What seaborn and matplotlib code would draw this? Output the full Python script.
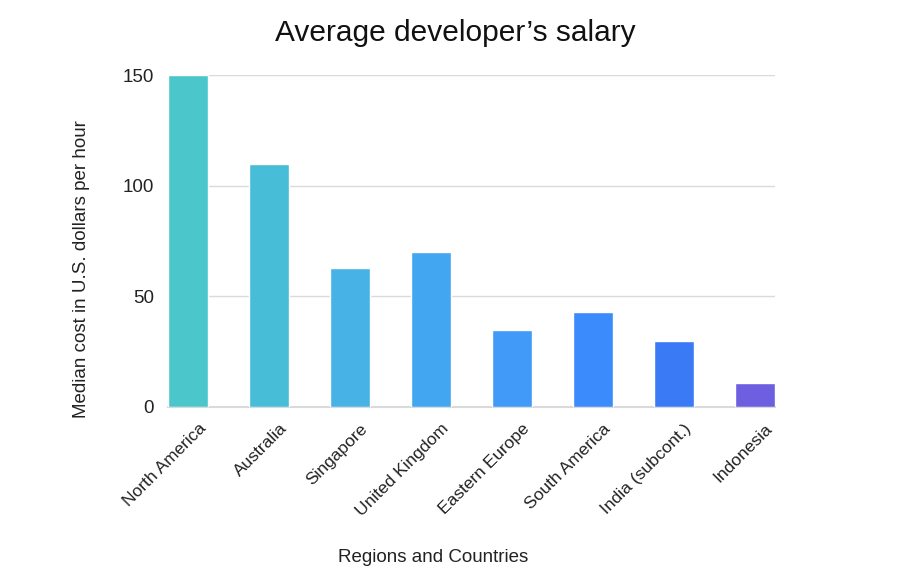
import matplotlib
matplotlib.use("Agg")
import matplotlib.pyplot as plt
import matplotlib.transforms as mtransforms
import seaborn as sns
import pandas as pd

# values
regions = ["North America", "Australia", "Singapore", "United Kingdom",
           "Eastern Europe", "South America", "India (subcont.)", "Indonesia"]
salary = [150, 110, 63, 70, 35, 43, 30, 11]
bar_colors = ["#4bc6cb", "#47bdd8", "#47b2e6", "#43a6f1",
              "#419af8", "#3b8bfc", "#3a7af5", "#6d5fe0"]

df = pd.DataFrame({"region": regions, "salary": salary})

sns.set_style("white")
plt.rcParams["font.family"] = ["Liberation Sans", "DejaVu Sans"]

fig = plt.figure(figsize=(8.97, 5.86), dpi=100)
ax = fig.add_axes([0.1873, 0.3055, 0.6767, 0.5665])

sns.barplot(data=df, x="region", y="salary", hue="region",
            palette=bar_colors, saturation=1, width=0.5, legend=False,
            ax=ax, zorder=3)

ax.set_ylim(0, 150)
ax.set_xlim(-0.25, 7.25)
ax.set_yticks([0, 50, 100, 150])
ax.yaxis.grid(True, color="#dadada", linewidth=1, zorder=0)
ax.xaxis.grid(False)
for s in ["top", "right", "left"]:
    ax.spines[s].set_visible(False)
ax.spines["bottom"].set_color("#dadada")
ax.spines["bottom"].set_linewidth(1.5)
ax.tick_params(axis="y", length=0, labelsize=13.5, colors="#222222", pad=10)
ax.tick_params(axis="x", length=0, labelsize=12.5, colors="#222222", pad=10)

# shift rotated labels a bit to the right, like the original
shift = mtransforms.ScaledTranslation(10 / 100, 0, fig.dpi_scale_trans)
for lab in ax.get_xticklabels():
    lab.set_rotation(45)
    lab.set_ha("right")
    lab.set_rotation_mode("anchor")
    lab.set_transform(lab.get_transform() + shift)

ax.set_ylabel("Median cost in U.S. dollars per hour", fontsize=13.5, color="#222222")
ax.yaxis.set_label_coords(-0.128, 0.415)
ax.set_xlabel("")
fig.text(0.483, 0.048, "Regions and Countries", ha="center", va="center",
         fontsize=13.5, color="#222222")
fig.text(0.508, 0.944, "Average developer\u2019s salary", ha="center", va="center",
         fontsize=21.5, color="#111111")

fig.savefig("out.png", dpi=100)
